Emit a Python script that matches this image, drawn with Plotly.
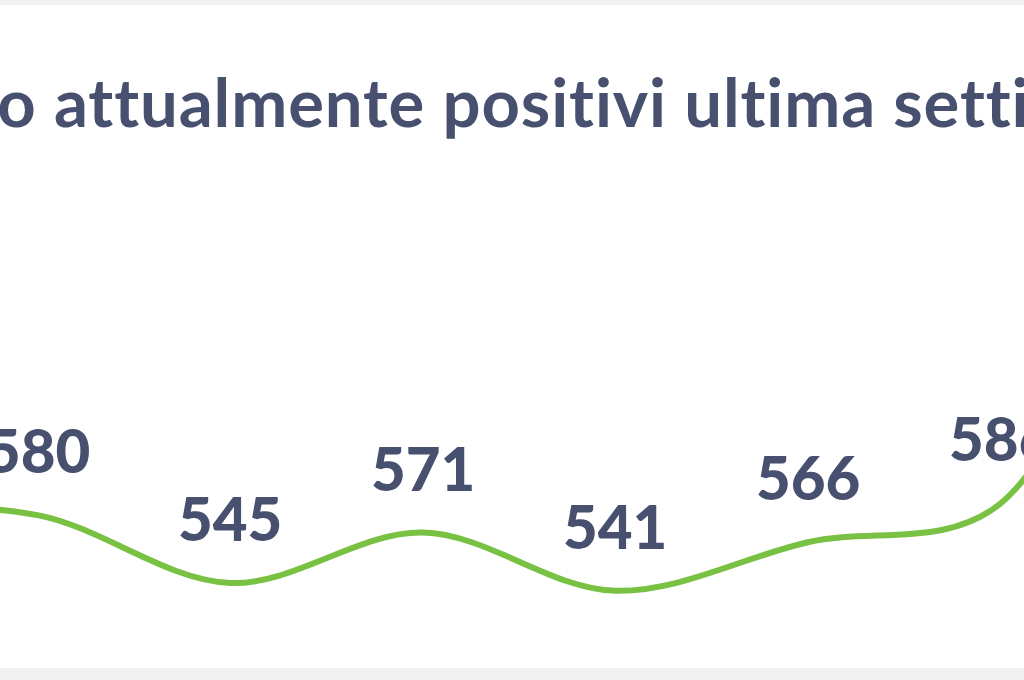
import plotly.graph_objects as go

# --- data (first and last points lie outside the visible crop) ---
day_index = [0, 1, 2, 3, 4, 5, 6, 7]
positivi = [584, 580, 545, 571, 541, 566, 586, 820]
labels = [str(v) for v in positivi]
title_text = "Andamento attualmente positivi ultima settimana"

LINE_GREEN = "#79c142"
TEXT_BLUE = "#48506f"

fig = go.Figure()
fig.add_trace(go.Scatter(
    x=day_index, y=positivi, mode="lines",
    line=dict(color=LINE_GREEN, width=6, shape="spline", smoothing=1.0),
    hoverinfo="skip", showlegend=False, cliponaxis=False,
))

for xi, yi, t in zip(day_index, positivi, labels):
    fig.add_annotation(
        x=xi, y=yi, xref="x", yref="y", text=t, showarrow=False,
        yshift=65, xanchor="center", yanchor="middle",
        font=dict(family="Lato", size=60, color=TEXT_BLUE, weight=900),
    )

fig.add_annotation(
    x=-323 / 1024, y=0.851, xref="paper", yref="paper",
    text='<span style="letter-spacing:0.9px;font-variant-ligatures:none">' + title_text + "</span>",
    showarrow=False, xanchor="left", yanchor="middle",
    font=dict(family="Lato", size=67, color=TEXT_BLUE, weight=700),
)

# light grey frame bands at top and bottom
fig.add_shape(type="rect", xref="paper", yref="paper", x0=0, x1=1,
              y0=1 - 5 / 680, y1=1, fillcolor="#f2f2f2", line_width=0, layer="below")
fig.add_shape(type="rect", xref="paper", yref="paper", x0=0, x1=1,
              y0=0, y1=12 / 680, fillcolor="#f0f0f0", line_width=0, layer="below")

fig.update_layout(
    width=1024, height=680,
    margin=dict(l=0, r=0, t=0, b=0),
    paper_bgcolor="white", plot_bgcolor="white",
    xaxis=dict(range=[0.8053, 6.122], visible=False, fixedrange=True),
    yaxis=dict(range=[495, 845.5], visible=False, fixedrange=True),
)

fig.write_html("out.html", config={"displayModeBar": False},
               post_script="document.body.style.margin='0';document.body.style.overflow='hidden';")
